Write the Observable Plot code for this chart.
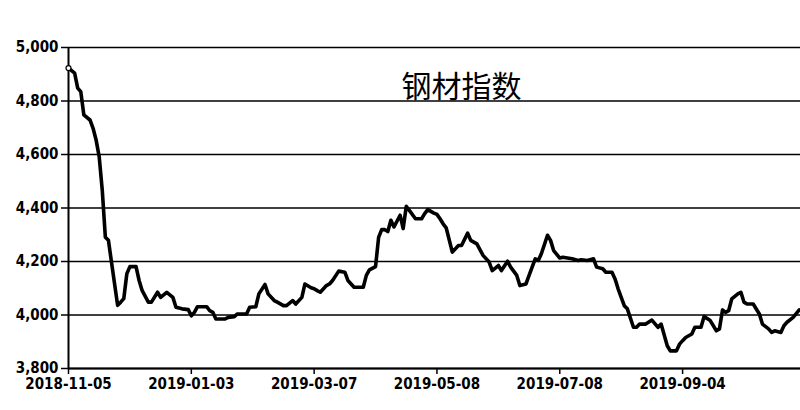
<!DOCTYPE html>
<html>
<head>
<meta charset="utf-8">
<script src="https://cdn.jsdelivr.net/npm/d3@7"></script>
<script src="https://cdn.jsdelivr.net/npm/@observablehq/plot@0.6"></script>
<style>
  html, body { margin: 0; padding: 0; background: #fff; }
  #chart { width: 800px; height: 410px; }
</style>
</head>
<body>
<div id="chart"></div>
<script>
// Trading-day index along the x axis
const days = [0,2,3,4,5,7,8,9,10,11,12,13,15,16,17,18,19,20,22,23,24,26,27,29,30,32,34,35,37,39,40,41,42,45,46,47,48,51,52,54,55,58,59,61,62,64,65,67,68,70,71,73,74,76,77,79,80,81,82,84,85,86,88,90,91,93,96,97,98,100,101,102,103,104,105,106,108,109,110,111,113,115,116,117,119,120,121,122,123,125,127,128,130,131,133,135,137,138,140,141,143,144,146,147,149,150,152,153,154,156,157,158,160,161,164,166,167,169,171,172,174,175,177,178,179,181,182,184,185,186,188,190,192,193,195,196,198,199,200,201,203,204,206,207,209,211,212,213,214,215,216,218,219,220,221,223,225,226,228,229,230,232,233,234,236,238];
// Steel index values
const values = [4923,4904,4848,4835,4748,4729,4698,4654,4591,4466,4291,4279,4117,4036,4048,4061,4154,4181,4181,4129,4091,4048,4048,4085,4066,4085,4066,4029,4023,4020,3997,4010,4031,4031,4016,4010,3985,3985,3991,3994,4004,4004,4029,4031,4079,4114,4079,4054,4048,4035,4035,4054,4041,4066,4116,4102,4098,4091,4085,4110,4116,4129,4164,4160,4129,4104,4104,4148,4169,4181,4290,4319,4319,4312,4354,4329,4373,4323,4406,4391,4360,4360,4379,4394,4381,4376,4360,4341,4326,4235,4260,4260,4306,4279,4266,4223,4198,4166,4185,4166,4201,4179,4148,4110,4116,4148,4210,4204,4229,4298,4279,4241,4213,4216,4210,4204,4206,4204,4210,4179,4173,4160,4160,4135,4098,4035,4023,3954,3954,3966,3966,3981,3954,3966,3885,3866,3866,3891,3904,3916,3929,3954,3954,3994,3979,3941,3948,4019,4010,4016,4060,4079,4085,4048,4041,4041,4004,3966,3948,3935,3941,3935,3960,3973,3991,4019];

const xTickIdx = [0, 40, 80, 120, 160, 200];
const xTickLabels = ["2018-11-05", "2019-01-03", "2019-03-07", "2019-05-08", "2019-07-08", "2019-09-04"];
const yTicks = [3800, 4000, 4200, 4400, 4600, 4800, 5000];
const title = "钢材指数";

const data = days.map((d, i) => ({day: d, value: values[i]}));

const chart = Plot.plot({
  width: 800,
  height: 410,
  marginLeft: 68,
  marginRight: 0,
  marginTop: 47,
  marginBottom: 42,
  style: {fontFamily: "'DejaVu Sans Condensed', 'DejaVu Sans', sans-serif", fontWeight: "bold", fontSize: "15px", color: "#000", background: "#fff"},
  x: {domain: [0, 238.4], label: null},
  y: {domain: [3800, 5000], label: null},
  marks: [
    Plot.gridY(yTicks, {stroke: "#000", strokeOpacity: 1, strokeWidth: 1.6}),
    Plot.ruleX([0], {stroke: "#000", strokeWidth: 2}),
    Plot.ruleY([3800], {stroke: "#000", strokeWidth: 2.2}),
    Plot.axisY({ticks: yTicks, tickFormat: d3.format(","), tickSize: 7, tickPadding: 3, strokeWidth: 1.5, label: null}),
    Plot.axisX({ticks: xTickIdx, tickFormat: d => xTickLabels[xTickIdx.indexOf(d)], tickSize: 6, tickPadding: 4, strokeWidth: 1.5, label: null}),
    Plot.line(data, {x: "day", y: "value", stroke: "#000", strokeWidth: 3.6, strokeLinejoin: "round", strokeLinecap: "round"}),
    Plot.dot(data.slice(0, 1), {x: "day", y: "value", r: 2.5, fill: "#fff", stroke: "#000", strokeWidth: 1.2}),
    Plot.text([title], {frameAnchor: "top", dx: 27, dy: 28, fontSize: 30, fontWeight: "normal", fontFamily: "'Noto Sans CJK SC', sans-serif", fill: "#000"})
  ]
});
document.getElementById("chart").appendChild(chart);
</script>
</body>
</html>
